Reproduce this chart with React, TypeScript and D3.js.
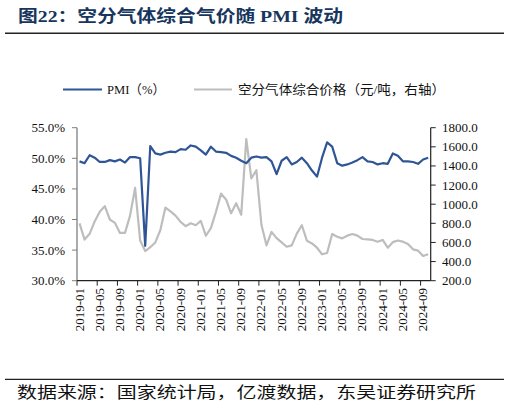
import { useMemo } from "react";
import * as d3 from "d3";

// 月份 2019-01 … 2024-10
const MONTHS: string[] = [];
for (let y = 2019; y <= 2024; y++) {
  for (let m = 1; m <= 12; m++) {
    if (y === 2024 && m > 10) break;
    MONTHS.push(`${y}-${String(m).padStart(2, "0")}`);
  }
}

// 制造业 PMI (%)
const PMI = [
  49.5, 49.2, 50.5, 50.1, 49.4, 49.4, 49.7, 49.5, 49.8, 49.3, 50.2, 50.2,
  50.0, 35.7, 52.0, 50.8, 50.6, 50.9, 51.1, 51.0, 51.5, 51.4, 52.1, 51.9,
  51.3, 50.6, 51.9, 51.1, 51.0, 50.9, 50.4, 50.1, 49.6, 49.2, 50.1, 50.3,
  50.1, 50.2, 49.5, 47.4, 49.6, 50.2, 49.0, 49.4, 50.1, 49.2, 48.0, 47.0,
  50.1, 52.6, 51.9, 49.2, 48.8, 49.0, 49.3, 49.7, 50.2, 49.5, 49.4, 49.0,
  49.2, 49.1, 50.8, 50.4, 49.5, 49.5, 49.4, 49.1, 49.8, 50.1,
];

// 空分气体综合价格 (元/吨)，读图估计
const GAS_PRICE = [
  800, 630, 690, 820, 920, 980, 840, 805, 700, 700, 880, 1170,
  620, 510, 550, 600, 730, 965, 925, 880, 815, 770, 800, 780,
  825, 670, 750, 920, 1110, 1050, 905, 1010, 890, 1680, 1270, 1355,
  785, 570, 710, 645, 600, 555, 570, 692, 780, 618, 590, 545,
  476, 490, 688, 660, 643, 671, 688, 671, 636, 632, 626, 608,
  626, 545, 603, 620, 608, 584, 528, 514, 458, 476,
];

const LEFT_TICKS = [30, 35, 40, 45, 50, 55];
const RIGHT_TICKS = [200, 400, 600, 800, 1000, 1200, 1400, 1600, 1800];

const PMI_COLOR = "#2F5597";
const GAS_COLOR = "#BDBDBD";
const FONT = "'Liberation Serif', 'Noto Sans CJK SC', serif";

export default function App() {
  const W = 510;
  const H = 412;
  const plot = { left: 77, right: 430.7, top: 127.7, bottom: 280.7 };

  const x = useMemo(
    () => d3.scaleBand<string>().domain(MONTHS).range([plot.left, plot.right]).padding(0),
    []
  );
  const yL = d3.scaleLinear().domain([30, 55]).range([plot.bottom, plot.top]);
  const yR = d3.scaleLinear().domain([200, 1800]).range([plot.bottom, plot.top]);
  const cx = (i: number) => (x(MONTHS[i]) ?? 0) + x.bandwidth() / 2;

  const pmiLine = d3.line<number>().x((_, i) => cx(i)).y((d) => yL(d))(PMI) ?? "";
  const gasLine = d3.line<number>().x((_, i) => cx(i)).y((d) => yR(d))(GAS_PRICE) ?? "";

  const labelled = MONTHS.filter((_, i) => i % 4 === 0);

  return (
    <>
      <style>{`body{margin:0}`}</style>
      <svg width={W} height={H} style={{ display: "block", background: "#fff" }} fontFamily={FONT}>
        {/* 标题 */}
        <text x={18} y={22} fontSize={16.5} fontWeight="bold" fill="#17365D"
          textLength={325} lengthAdjust="spacingAndGlyphs">
          图22：空分气体综合气价随 PMI 波动
        </text>
        <line x1={5} x2={504} y1={33.3} y2={33.3} stroke="#222" strokeWidth={1.6} />

        {/* 图例 */}
        <line x1={63} x2={102} y1={89.5} y2={89.5} stroke={PMI_COLOR} strokeWidth={2.2} />
        <text x={107} y={94} fontSize={13} fill="#111" textLength={58} lengthAdjust="spacingAndGlyphs">
          PMI（%）
        </text>
        <line x1={194} x2={232} y1={89.5} y2={89.5} stroke={GAS_COLOR} strokeWidth={2.2} />
        <text x={238} y={94} fontSize={13} fill="#111" textLength={207} lengthAdjust="spacingAndGlyphs">
          空分气体综合价格（元/吨，右轴）
        </text>

        {/* 左轴 */}
        <line x1={plot.left} x2={plot.left} y1={plot.top} y2={plot.bottom} stroke="#7F7F7F" strokeWidth={1.3} />
        {LEFT_TICKS.map((t) => (
          <g key={`l${t}`}>
            <line x1={plot.left - 5} x2={plot.left} y1={yL(t)} y2={yL(t)} stroke="#7F7F7F" />
            <text x={65} y={yL(t) + 4.5} fontSize={13} textAnchor="end" fill="#111">
              {`${t.toFixed(1)}%`}
            </text>
          </g>
        ))}

        {/* 右轴 */}
        <line x1={plot.right} x2={plot.right} y1={plot.top} y2={plot.bottom} stroke="#222" strokeWidth={1.2} />
        {RIGHT_TICKS.map((t) => (
          <g key={`r${t}`}>
            <line x1={plot.right} x2={plot.right + 5} y1={yR(t)} y2={yR(t)} stroke="#222" />
            <text x={442} y={yR(t) + 4.5} fontSize={13} fill="#111">
              {t.toFixed(1)}
            </text>
          </g>
        ))}

        {/* 横轴 */}
        <line x1={plot.left} x2={plot.right} y1={plot.bottom} y2={plot.bottom} stroke="#222" strokeWidth={1.2} />
        {labelled.map((m) => {
          const tx = x(m) ?? 0;
          const lx = tx + x.bandwidth() / 2 + 4;
          return (
            <g key={m}>
              <line x1={tx} x2={tx} y1={plot.bottom} y2={plot.bottom + 5} stroke="#222" />
              <text transform={`translate(${lx},288) rotate(-90)`} fontSize={13}
                textAnchor="end" fill="#111">
                {m}
              </text>
            </g>
          );
        })}

        {/* 数据线 */}
        <path d={gasLine} fill="none" stroke={GAS_COLOR} strokeWidth={2.2} strokeLinejoin="round" />
        <path d={pmiLine} fill="none" stroke={PMI_COLOR} strokeWidth={2.2} strokeLinejoin="round" />

        {/* 数据来源 */}
        <line x1={5} x2={504} y1={379.3} y2={379.3} stroke="#222" strokeWidth={1.2} />
        <text x={17} y={398} fontSize={15.5} fill="#111" textLength={459} lengthAdjust="spacingAndGlyphs">
          数据来源：国家统计局，亿渡数据，东吴证券研究所
        </text>
      </svg>
    </>
  );
}
